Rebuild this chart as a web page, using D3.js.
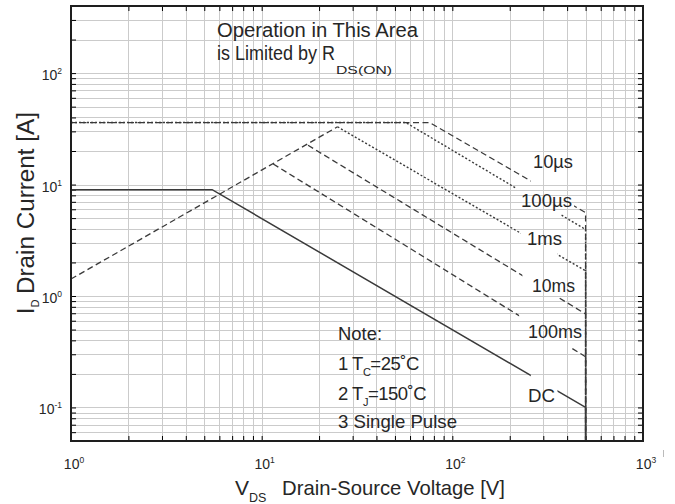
<!DOCTYPE html>
<html>
<head>
<meta charset="utf-8">
<script src="https://cdn.jsdelivr.net/npm/d3@7"></script>
<style>
  html, body { margin: 0; padding: 0; background: #fff; }
  text { font-family: "Liberation Sans", Arial, sans-serif; fill: #262626; }
</style>
</head>
<body>
<svg id="chart" width="675" height="504"></svg>
<script>
// Safe operating area, V_DS [V] vs I_D [A]
const rdsOnLimit = [[1, 1.42], [25, 33]];
const soa10us  = [[1, 36], [76, 36], [500, 5.6], [500, 0.05]];
const soa100us = [[1, 36], [57, 36], [500, 3.95], [500, 0.05]];
const soa1ms   = [[25, 33], [500, 1.68], [500, 0.05]];
const soa10ms  = [[17.5, 22.5], [500, 0.69], [500, 0.05]];
const soa100ms = [[11.5, 15.3], [500, 0.285], [500, 0.05]];
const soaDC    = [[1, 9], [5.5, 9], [500, 0.1], [500, 0.05]];
const seriesNames = ["10µs", "100µs", "1ms", "10ms", "100ms", "DC"];
const xTickExps = [0, 1, 2, 3];
const yTickExps = [-1, 0, 1, 2];
const noteLines = ["Note:", "1 T|C|=25˚C", "2 T|J|=150˚C", "3 Single Pulse"];

const W = 675, H = 504;
const plot = { left: 71, right: 643, top: 6, bottom: 441 };

const svg = d3.select("#chart");
const x = d3.scaleLog().domain([1, 1000]).range([plot.left, plot.right]);
const y = d3.scaleLog().domain([0.05, 400]).range([plot.bottom, plot.top]);

// minor + major grid values on each log axis
const xGrid = [];
[1, 10, 100].forEach(d => { for (let k = 1; k <= 9; k++) xGrid.push(k * d); });
xGrid.push(1000);
const yGrid = [];
[0.01, 0.1, 1, 10, 100].forEach(d => { for (let k = 1; k <= 9; k++) { const v = k * d; if (v >= 0.05 && v <= 400) yGrid.push(+v.toPrecision(3)); } });

const grid = svg.append("g").attr("stroke", "#cbcbcb").attr("stroke-width", 1);
grid.selectAll("line.v").data(xGrid).join("line").attr("class", "v")
  .attr("x1", d => Math.round(x(d)) + 0.5).attr("x2", d => Math.round(x(d)) + 0.5)
  .attr("y1", plot.top).attr("y2", plot.bottom);
grid.selectAll("line.h").data(yGrid).join("line").attr("class", "h")
  .attr("y1", d => Math.round(y(d)) + 0.5).attr("y2", d => Math.round(y(d)) + 0.5)
  .attr("x1", plot.left).attr("x2", plot.right);

// inward ticks on all four sides
const tickLen = 5;
const ticks = svg.append("g").attr("stroke", "#333").attr("stroke-width", 1);
ticks.append("g").attr("transform", `translate(${plot.left},0)`).call(d3.axisRight(y).tickValues(yGrid).tickSize(tickLen).tickFormat(""));
ticks.append("g").attr("transform", `translate(${plot.right},0)`).call(d3.axisLeft(y).tickValues(yGrid).tickSize(tickLen).tickFormat(""));
ticks.append("g").attr("transform", `translate(0,${plot.bottom})`).call(d3.axisTop(x).tickValues(xGrid).tickSize(tickLen).tickFormat(""));
ticks.append("g").attr("transform", `translate(0,${plot.top})`).call(d3.axisBottom(x).tickValues(xGrid).tickSize(tickLen).tickFormat(""));
ticks.selectAll(".domain").remove();

// SOA curves
const line = d3.line().x(d => x(d[0])).y(d => y(d[1]));
const curves = [
  { data: soa10us,  dash: "6,3.5", width: 1.3, gap: [258, 435] },
  { data: soa100us, dash: "2,2",   width: 1.4, gap: [216, 372] },
  { data: soa1ms,   dash: "2,2",   width: 1.4, gap: [229, 354] },
  { data: soa10ms,  dash: "6,3.5", width: 1.3, gap: [233, 356] },
  { data: soa100ms, dash: "6,3.5", width: 1.3, gap: [224, 418] },
  { data: soaDC,    dash: null,    width: 1.5, gap: [258, 356] }
];
const defs = svg.append("defs");
curves.forEach((c, i) => {
  const m = defs.append("mask").attr("id", "gap" + i).attr("maskUnits", "userSpaceOnUse")
    .attr("x", 0).attr("y", 0).attr("width", W).attr("height", H);
  m.append("rect").attr("width", W).attr("height", H).attr("fill", "#fff");
  m.append("rect").attr("x", x(c.gap[0])).attr("width", x(c.gap[1]) - x(c.gap[0]))
    .attr("y", 0).attr("height", H).attr("fill", "#000");
});
const curveG = svg.append("g").attr("fill", "none").attr("stroke", "#3a3a3a");
curveG.append("path").attr("d", line(rdsOnLimit)).attr("stroke-dasharray", "6,3.5").attr("stroke-width", 1.3);
curves.forEach((c, i) => {
  curveG.append("path").attr("d", line(c.data)).attr("mask", `url(#gap${i})`)
    .attr("stroke-width", c.width).attr("stroke-dasharray", c.dash);
});

// frame
svg.append("rect").attr("x", plot.left).attr("y", plot.top)
  .attr("width", plot.right - plot.left).attr("height", plot.bottom - plot.top)
  .attr("fill", "none").attr("stroke", "#1e1e1e").attr("stroke-width", 2);

// helper for text that is fitted to a measured width
function txt(g, px, py, str, size, len, anchor) {
  const t = g.append("text").attr("x", px).attr("y", py).attr("font-size", size).text(str);
  if (anchor) t.attr("text-anchor", anchor);
  if (len) t.attr("textLength", len).attr("lengthAdjust", "spacingAndGlyphs");
  return t;
}
function power(g, px, py, exp, anchor) {
  const t = g.append("text").attr("y", py).attr("font-size", 14).attr("text-anchor", anchor);
  t.append("tspan").attr("x", px).text("10");
  t.append("tspan").attr("dy", -6).attr("font-size", 8.5).text(exp);
  return t;
}

// tick labels
const labels = svg.append("g");
xTickExps.forEach(e => power(labels, x(Math.pow(10, e)) + 3, 469, e, "middle"));
yTickExps.forEach(e => power(labels, 62, y(Math.pow(10, e)) + 7, e, "end"));

// curve labels
const labelPos = [[533, 168, 40], [521, 207, 51], [527, 245, 35], [532, 292, 43], [528, 338, 54], [528, 402, 27]];
seriesNames.forEach((s, i) => txt(labels, labelPos[i][0], labelPos[i][1], s, 19, labelPos[i][2]));

// R_DS(ON) annotation
txt(labels, 217, 37, "Operation in This Area", 19.5, 201);
txt(labels, 217, 60, "is Limited by R", 19.5, 118);
txt(labels, 336, 74, "DS(ON)", 11, 56);

// note block
const noteBase = [340, 370, 400, 428];
const noteLen = [44, null, null, 119];
noteLines.forEach((s, i) => {
  const parts = s.split("|");
  if (parts.length === 1) { txt(labels, 338, noteBase[i], s, 18.5, noteLen[i]); return; }
  const t = labels.append("text").attr("x", 338).attr("y", noteBase[i]).attr("font-size", 18.5).attr("letter-spacing", -0.5);
  t.append("tspan").text(parts[0]);
  t.append("tspan").attr("dy", 6).attr("font-size", 11).text(parts[1]);
  t.append("tspan").attr("dy", -6).text(parts[2]);
});

// axis titles
const xt = labels.append("text").attr("x", 235).attr("y", 495).attr("font-size", 21);
xt.append("tspan").text("V");
xt.append("tspan").attr("dy", 7).attr("font-size", 12.5).text("DS");
txt(labels, 282, 495, "Drain-Source Voltage [V]", 21, 223);

const yt = labels.append("g").attr("transform", "translate(33.5,314) rotate(-90)");
const yt1 = yt.append("text").attr("x", 0).attr("y", 0).attr("font-size", 23);
yt1.append("tspan").text("I");
yt1.append("tspan").attr("dy", 5).attr("font-size", 11).text("D");
txt(yt, 20, 0, "Drain Current [A]", 23, 182);

// small mark beside the last x tick label
svg.append("line").attr("x1", 663.5).attr("x2", 663.5).attr("y1", 450).attr("y2", 457)
  .attr("stroke", "#bbb").attr("stroke-width", 1);
</script>
</body>
</html>
